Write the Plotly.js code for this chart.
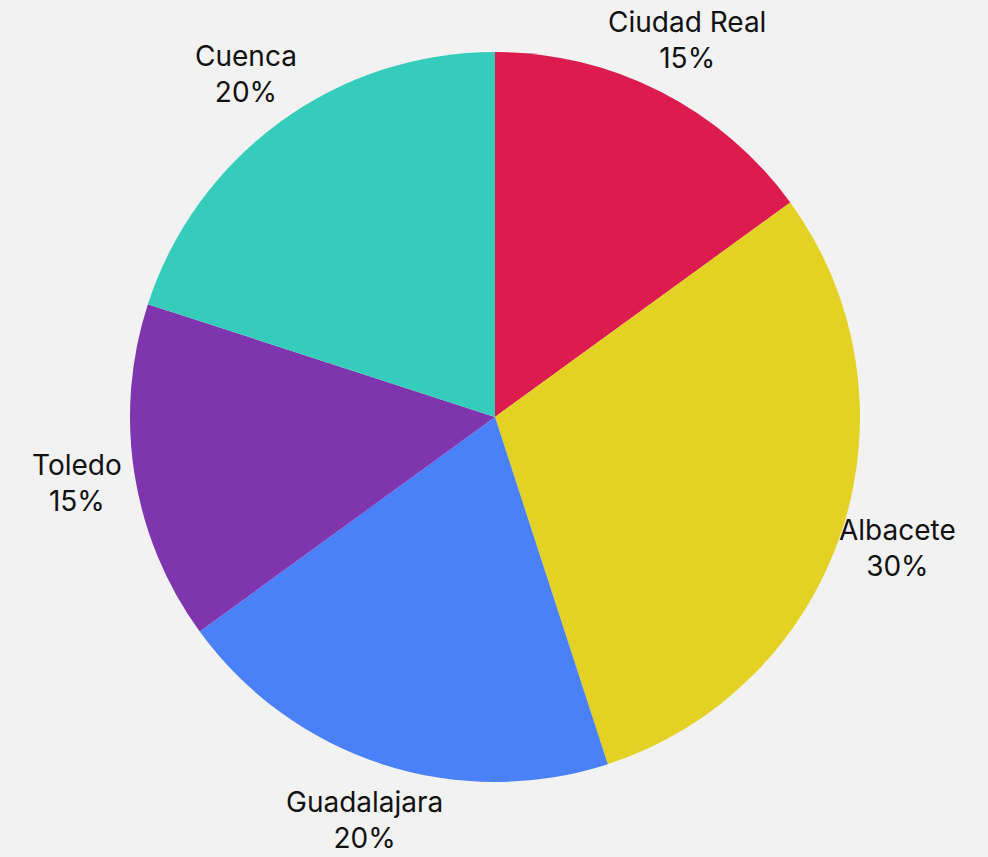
<!DOCTYPE html>
<html>
<head>
<meta charset="utf-8">
<script src="https://cdn.plot.ly/plotly-3.0.1.min.js"></script>
<style>html,body{margin:0;padding:0;background:#f2f2f2;}</style>
</head>
<body>
<div id="chart" style="width:988px;height:857px;"></div>
<script>
const categories = ["Ciudad Real", "Albacete", "Guadalajara", "Toledo", "Cuenca"];
const values = [15, 30, 20, 15, 20];
const colors = ["#DC1C4F", "#E3D224", "#4A80F8", "#7E35AE", "#36CCBB"];

// Label placement: centred on each slice's mid-angle, a little outside the rim
const labelDistance = 1.16; // relative to pie radius
const total = values.reduce((a, b) => a + b, 0);
let cum = 0;
const annotations = categories.map((name, i) => {
  const mid = (cum + values[i] / 2) / total;
  cum += values[i];
  const theta = 2 * Math.PI * mid; // clockwise from 12 o'clock
  const pct = Math.round(values[i] / total * 100);
  return {
    xref: "paper", yref: "paper",
    x: 0.5 + 0.5 * labelDistance * Math.sin(theta),
    y: 0.5 + 0.5 * labelDistance * Math.cos(theta),
    xanchor: "center", yanchor: "middle",
    text: name + "<br>" + pct + "%",
    showarrow: false,
    font: {family: "Inter, sans-serif", size: 28, color: "#111111"}
  };
});

Plotly.newPlot("chart", [{
  type: "pie",
  labels: categories,
  values: values,
  sort: false,
  direction: "clockwise",
  rotation: 0,
  marker: {colors: colors, line: {width: 0}},
  textinfo: "none",
  hoverinfo: "label+percent",
  showlegend: false
}], {
  width: 988,
  height: 857,
  paper_bgcolor: "#f2f2f2",
  plot_bgcolor: "#f2f2f2",
  margin: {l: 130, r: 128, t: 52, b: 75},
  font: {family: "Inter, sans-serif", size: 28, color: "#111111"},
  annotations: annotations,
  showlegend: false
}, {displayModeBar: false});
</script>
</body>
</html>
